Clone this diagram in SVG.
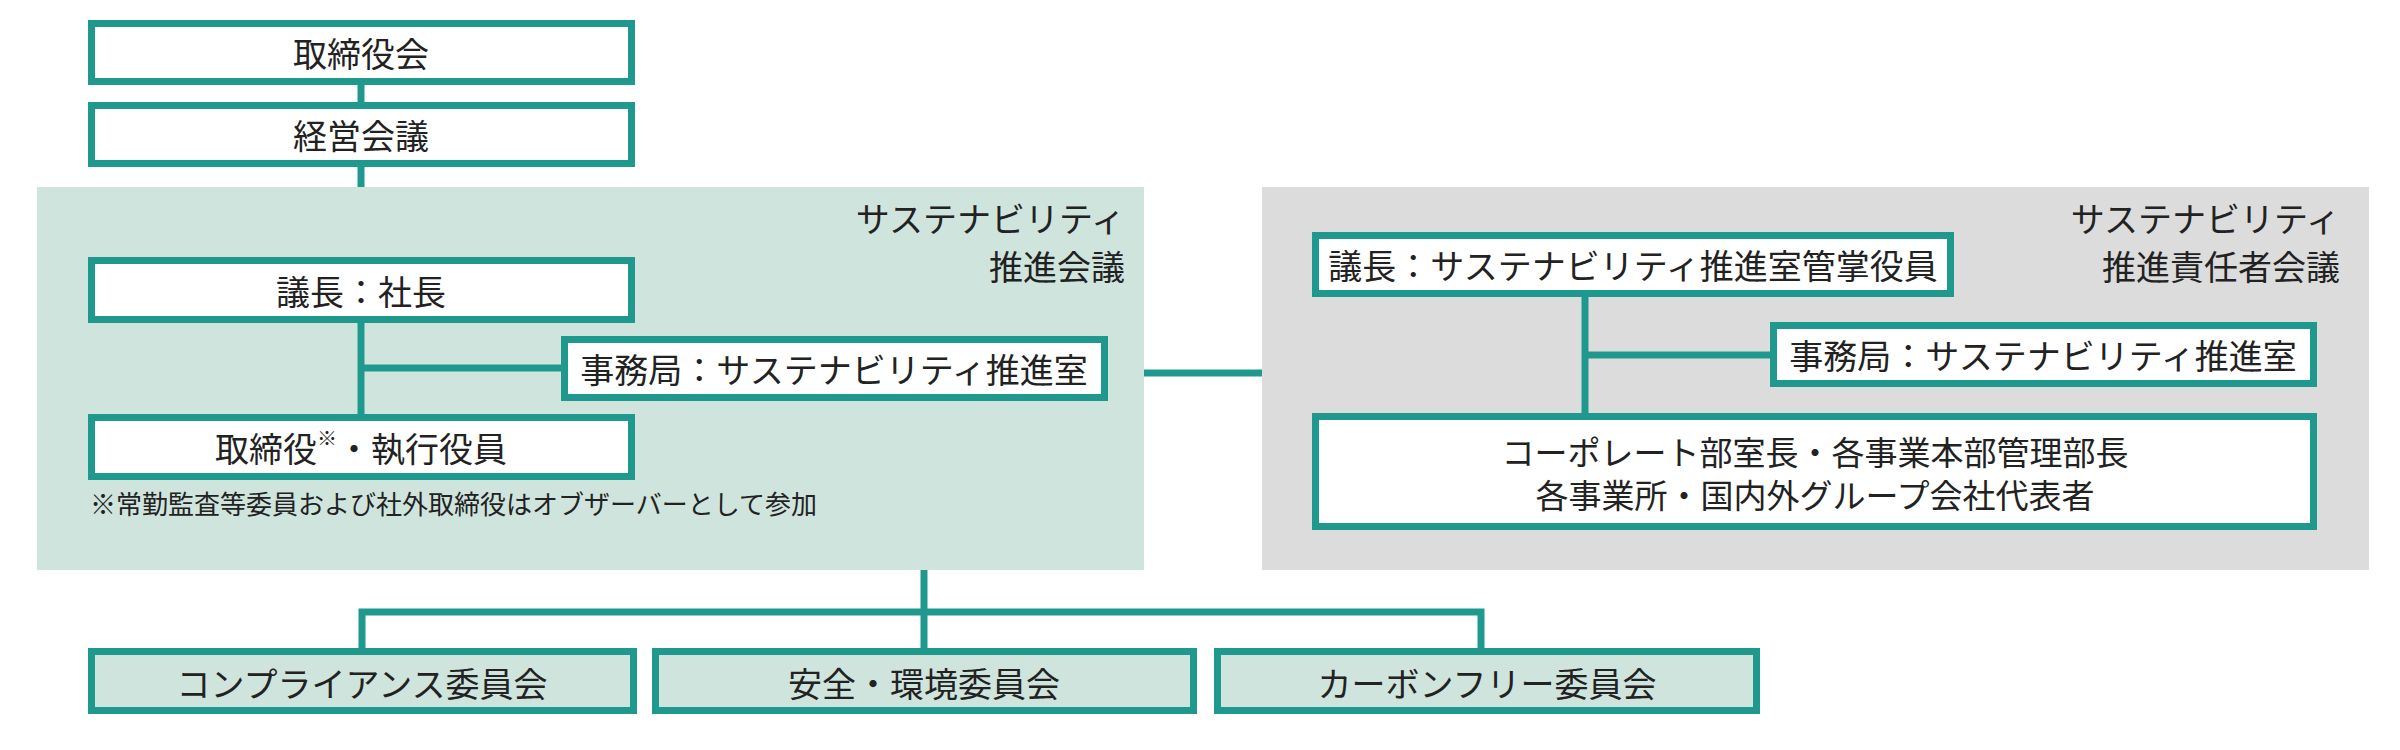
<svg xmlns="http://www.w3.org/2000/svg" width="2400" height="750" viewBox="0 0 2400 750">
<style>
text{font-family:"Noto Sans CJK JP","Noto Sans CJK SC",sans-serif;fill:#222;}
.box{fill:#fff;stroke:#1f998e;stroke-width:7;}
.gbox{fill:#d0e4de;stroke:#1f998e;stroke-width:7;}
.ln{stroke:#1f998e;stroke-width:7;fill:none;}
.t{font-size:34px;text-anchor:middle;dominant-baseline:central;}
.t2{font-size:33px;text-anchor:middle;dominant-baseline:central;}
.title{font-size:34px;text-anchor:end;dominant-baseline:central;}
.note{font-size:26px;dominant-baseline:central;}
</style>
<rect width="2400" height="750" fill="#fff"/>
<g id="panel-left"><rect x="37" y="187" width="1107" height="383" fill="#d0e4de"/>
<text class="title" x="1125" y="217">サステナビリティ</text>
<text class="title" x="1125" y="265">推進会議</text>
<text class="note" x="90" y="502">※常勤監査等委員および社外取締役はオブザーバーとして参加</text></g>
<g id="panel-right"><rect x="1262" y="187" width="1107" height="383" fill="#dcdcdc"/>
<text class="title" x="2340" y="217">サステナビリティ</text>
<text class="title" x="2340" y="265">推進責任者会議</text></g>
<g id="connectors">
<path class="ln" d="M361 85V102M361 167V187"/>
<path class="ln" d="M361 323V414M361 368H561"/>
<path class="ln" d="M1144 373H1262"/>
<path class="ln" d="M1585 297V413M1585 355H1770"/>
<path class="ln" d="M924 570V612M362 649V612H1481V649M924 612V649"/>
</g>
<g id="n-board"><rect class="box" x="91.5" y="23.5" width="540" height="58"/><text class="t" x="361" y="52">取締役会</text></g>
<g id="n-mgmt"><rect class="box" x="91.5" y="105.5" width="540" height="58"/><text class="t" x="361" y="134">経営会議</text></g>
<g id="n-chair"><rect class="box" x="91.5" y="260.5" width="540" height="59"/><text class="t" x="361" y="290">議長：社長</text></g>
<g id="n-sec-left"><rect class="box" x="564.5" y="339.5" width="540" height="58"/><text class="t" x="834" y="368">事務局：サステナビリティ推進室</text></g>
<g id="n-directors"><rect class="box" x="91.5" y="417.5" width="540" height="59"/><text class="t" x="361" y="447">取締役<tspan font-size="20" dy="-10">※</tspan><tspan dy="10">・執行役員</tspan></text></g>
<g id="n-chair-right"><rect class="box" x="1315.5" y="235.5" width="635" height="58"/><text class="t" x="1633" y="264">議長：サステナビリティ推進室管掌役員</text></g>
<g id="n-sec-right"><rect class="box" x="1773.5" y="325.5" width="540" height="58"/><text class="t" x="2043" y="354">事務局：サステナビリティ推進室</text></g>
<g id="n-members"><rect class="box" x="1315.5" y="416.5" width="998" height="110"/><text class="t2" x="1815" y="451">コーポレート部室長・各事業本部管理部長</text><text class="t2" x="1815" y="494">各事業所・国内外グループ会社代表者</text></g>
<g id="n-compliance"><rect class="gbox" x="91.5" y="651.5" width="542" height="59"/><text class="t" x="362" y="682">コンプライアンス委員会</text></g>
<g id="n-safety"><rect class="gbox" x="655.5" y="651.5" width="538" height="59"/><text class="t" x="924" y="682">安全・環境委員会</text></g>
<g id="n-carbon"><rect class="gbox" x="1217.5" y="651.5" width="539" height="59"/><text class="t" x="1487" y="682">カーボンフリー委員会</text></g>
</svg>
